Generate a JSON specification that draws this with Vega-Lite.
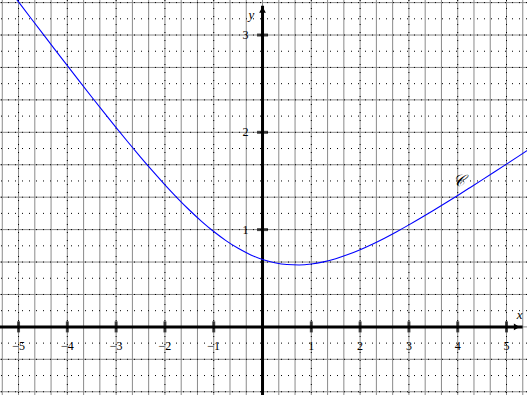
{
  "$schema": "https://vega.github.io/schema/vega-lite/v6.json",
  "width": 527,
  "height": 395,
  "autosize": {"type": "none"},
  "padding": 0,
  "config": {"view": {"stroke": null}},
  "datasets": {
    "vgrid": [{"x":-5.3333},{"x":-5},{"x":-4.6667},{"x":-4.3333},{"x":-4},{"x":-3.6667},{"x":-3.3333},{"x":-3},{"x":-2.6667},{"x":-2.3333},{"x":-2},{"x":-1.6667},{"x":-1.3333},{"x":-1},{"x":-0.6667},{"x":-0.3333},{"x":0},{"x":0.3333},{"x":0.6667},{"x":1},{"x":1.3333},{"x":1.6667},{"x":2},{"x":2.3333},{"x":2.6667},{"x":3},{"x":3.3333},{"x":3.6667},{"x":4},{"x":4.3333},{"x":4.6667},{"x":5},{"x":5.3333}],
    "hgrid": [{"y":-0.6667},{"y":-0.3333},{"y":0},{"y":0.3333},{"y":0.6667},{"y":1},{"y":1.3333},{"y":1.6667},{"y":2},{"y":2.3333},{"y":2.6667},{"y":3},{"y":3.3333}],
    "hdots": [{"y":-0.6667},{"y":-0.5},{"y":-0.3333},{"y":-0.1667},{"y":0.1667},{"y":0.3333},{"y":0.5},{"y":0.6667},{"y":0.8333},{"y":1},{"y":1.1667},{"y":1.3333},{"y":1.5},{"y":1.6667},{"y":1.8333},{"y":2},{"y":2.1667},{"y":2.3333},{"y":2.5},{"y":2.6667},{"y":2.8333},{"y":3},{"y":3.1667},{"y":3.3333}],
    "vdots": [{"x":-5},{"x":-4},{"x":-3},{"x":-2},{"x":-1},{"x":1},{"x":2},{"x":3},{"x":4},{"x":5}],
    "curve": [
      {"x":-5.25,"y":3.5052},{"x":-5.0,"y":3.34},{"x":-4.75,"y":3.1753},{"x":-4.5,"y":3.011},{"x":-4.25,"y":2.8475},{"x":-4.0,"y":2.6848},{"x":-3.75,"y":2.5233},{"x":-3.5,"y":2.3631},{"x":-3.25,"y":2.2048},{"x":-3.0,"y":2.0486},{"x":-2.75,"y":1.8953},{"x":-2.5,"y":1.7456},{"x":-2.25,"y":1.6002},{"x":-2.0,"y":1.4602},{"x":-1.75,"y":1.3269},{"x":-1.5,"y":1.2014},{"x":-1.25,"y":1.0852},{"x":-1.0,"y":0.98},{"x":-0.75,"y":0.8869},{"x":-0.5,"y":0.8074},{"x":-0.25,"y":0.7426},{"x":0,"y":0.6931},{"x":0.25,"y":0.6592},{"x":0.5,"y":0.6408},{"x":0.75,"y":0.6369},{"x":1.0,"y":0.6466},{"x":1.25,"y":0.6686},{"x":1.5,"y":0.7014},{"x":1.75,"y":0.7435},{"x":2.0,"y":0.7936},{"x":2.25,"y":0.8502},{"x":2.5,"y":0.9122},{"x":2.75,"y":0.9787},{"x":3.0,"y":1.0486},{"x":3.25,"y":1.1214},{"x":3.5,"y":1.1965},{"x":3.75,"y":1.2733},{"x":4.0,"y":1.3514},{"x":4.25,"y":1.4309},{"x":4.5,"y":1.511},{"x":4.75,"y":1.5919},{"x":5.0,"y":1.6734},{"x":5.25,"y":1.7552},{"x":5.5,"y":1.8374}
    ],
    "xticks": [{"x":-5,"y":0,"label":"−5"},{"x":-4,"y":0,"label":"−4"},{"x":-3,"y":0,"label":"−3"},{"x":-2,"y":0,"label":"−2"},{"x":-1,"y":0,"label":"−1"},{"x":1,"y":0,"label":"1"},{"x":2,"y":0,"label":"2"},{"x":3,"y":0,"label":"3"},{"x":4,"y":0,"label":"4"},{"x":5,"y":0,"label":"5"}],
    "yticks": [{"x":0,"y":1,"label":"1"},{"x":0,"y":2,"label":"2"},{"x":0,"y":3,"label":"3"}],
    "xaxis": [{"x":-5.45,"x2":5.33,"y":0}],
    "yaxis": [{"x":0,"y":-0.75,"y2":3.3}],
    "arrowx": [{"x":5.21,"y":0}],
    "arrowy": [{"x":0,"y":3.26}],
    "names": [{"x":5.27,"y":0.12,"label":"x"},{"x":-0.23,"y":3.21,"label":"y"}],
    "cname": [{"x":4.02,"y":1.5,"label":"𝒞"}]
  },
  "layer": [
    {
      "data": {"name": "vgrid"},
      "mark": {"type": "rule", "color": "#8a8a8a", "strokeWidth": 1},
      "encoding": {
        "x": {"field": "x", "type": "quantitative", "scale": {"domain": [-5.38, 5.42], "nice": false, "zero": false}, "axis": null}
      }
    },
    {
      "data": {"name": "hgrid"},
      "mark": {"type": "rule", "color": "#8a8a8a", "strokeWidth": 1},
      "encoding": {
        "y": {"field": "y", "type": "quantitative", "scale": {"domain": [-0.7, 3.36], "nice": false, "zero": false}, "axis": null}
      }
    },
    {
      "data": {"name": "hdots"},
      "mark": {"type": "rule", "color": "#000000", "strokeWidth": 1, "strokeDash": [1, 6]},
      "encoding": {
        "y": {"field": "y", "type": "quantitative", "scale": {"domain": [-0.7, 3.36], "nice": false, "zero": false}, "axis": null}
      }
    },
    {
      "data": {"name": "vdots"},
      "mark": {"type": "rule", "color": "#000000", "strokeWidth": 1, "strokeDash": [1, 7]},
      "encoding": {
        "x": {"field": "x", "type": "quantitative", "scale": {"domain": [-5.38, 5.42], "nice": false, "zero": false}, "axis": null}
      }
    },
    {
      "data": {"name": "xaxis"},
      "mark": {"type": "rule", "color": "#000000", "strokeWidth": 3},
      "encoding": {
        "x": {"field": "x", "type": "quantitative", "scale": {"domain": [-5.38, 5.42], "nice": false, "zero": false}, "axis": null},
        "x2": {"field": "x2"},
        "y": {"field": "y", "type": "quantitative", "scale": {"domain": [-0.7, 3.36], "nice": false, "zero": false}, "axis": null}
      }
    },
    {
      "data": {"name": "yaxis"},
      "mark": {"type": "rule", "color": "#000000", "strokeWidth": 3},
      "encoding": {
        "x": {"field": "x", "type": "quantitative", "scale": {"domain": [-5.38, 5.42], "nice": false, "zero": false}, "axis": null},
        "y": {"field": "y", "type": "quantitative", "scale": {"domain": [-0.7, 3.36], "nice": false, "zero": false}, "axis": null},
        "y2": {"field": "y2"}
      }
    },
    {
      "data": {"name": "curve"},
      "mark": {"type": "line", "color": "#0000ff", "strokeWidth": 1.1, "clip": true, "interpolate": "monotone"},
      "encoding": {
        "x": {"field": "x", "type": "quantitative", "scale": {"domain": [-5.38, 5.42], "nice": false, "zero": false}, "axis": null},
        "y": {"field": "y", "type": "quantitative", "scale": {"domain": [-0.7, 3.36], "nice": false, "zero": false}, "axis": null}
      }
    },
    {
      "data": {"name": "xticks"},
      "mark": {"type": "tick", "orient": "vertical", "color": "#000000", "size": 11, "thickness": 3},
      "encoding": {
        "x": {"field": "x", "type": "quantitative", "scale": {"domain": [-5.38, 5.42], "nice": false, "zero": false}, "axis": null},
        "y": {"field": "y", "type": "quantitative", "scale": {"domain": [-0.7, 3.36], "nice": false, "zero": false}, "axis": null}
      }
    },
    {
      "data": {"name": "yticks"},
      "mark": {"type": "tick", "orient": "horizontal", "color": "#000000", "size": 11, "thickness": 3},
      "encoding": {
        "x": {"field": "x", "type": "quantitative", "scale": {"domain": [-5.38, 5.42], "nice": false, "zero": false}, "axis": null},
        "y": {"field": "y", "type": "quantitative", "scale": {"domain": [-0.7, 3.36], "nice": false, "zero": false}, "axis": null}
      }
    },
    {
      "data": {"name": "arrowx"},
      "mark": {"type": "point", "shape": "triangle-right", "filled": true, "color": "#000000", "size": 45, "opacity": 1},
      "encoding": {
        "x": {"field": "x", "type": "quantitative", "scale": {"domain": [-5.38, 5.42], "nice": false, "zero": false}, "axis": null},
        "y": {"field": "y", "type": "quantitative", "scale": {"domain": [-0.7, 3.36], "nice": false, "zero": false}, "axis": null}
      }
    },
    {
      "data": {"name": "arrowy"},
      "mark": {"type": "point", "shape": "triangle-up", "filled": true, "color": "#000000", "size": 45, "opacity": 1},
      "encoding": {
        "x": {"field": "x", "type": "quantitative", "scale": {"domain": [-5.38, 5.42], "nice": false, "zero": false}, "axis": null},
        "y": {"field": "y", "type": "quantitative", "scale": {"domain": [-0.7, 3.36], "nice": false, "zero": false}, "axis": null}
      }
    },
    {
      "data": {"name": "xticks"},
      "mark": {"type": "text", "font": "Liberation Serif", "fontSize": 12, "color": "#000000", "dy": 19, "align": "center", "baseline": "middle"},
      "encoding": {
        "x": {"field": "x", "type": "quantitative", "scale": {"domain": [-5.38, 5.42], "nice": false, "zero": false}, "axis": null},
        "y": {"field": "y", "type": "quantitative", "scale": {"domain": [-0.7, 3.36], "nice": false, "zero": false}, "axis": null},
        "text": {"field": "label"}
      }
    },
    {
      "data": {"name": "yticks"},
      "mark": {"type": "text", "font": "Liberation Serif", "fontSize": 12, "color": "#000000", "dx": -17, "align": "center", "baseline": "middle"},
      "encoding": {
        "x": {"field": "x", "type": "quantitative", "scale": {"domain": [-5.38, 5.42], "nice": false, "zero": false}, "axis": null},
        "y": {"field": "y", "type": "quantitative", "scale": {"domain": [-0.7, 3.36], "nice": false, "zero": false}, "axis": null},
        "text": {"field": "label"}
      }
    },
    {
      "data": {"name": "names"},
      "mark": {"type": "text", "font": "Liberation Serif", "fontSize": 13, "fontStyle": "italic", "color": "#000000", "align": "center", "baseline": "middle"},
      "encoding": {
        "x": {"field": "x", "type": "quantitative", "scale": {"domain": [-5.38, 5.42], "nice": false, "zero": false}, "axis": null},
        "y": {"field": "y", "type": "quantitative", "scale": {"domain": [-0.7, 3.36], "nice": false, "zero": false}, "axis": null},
        "text": {"field": "label"}
      }
    },
    {
      "data": {"name": "cname"},
      "mark": {"type": "text", "font": "DejaVu Serif", "fontSize": 16, "fontStyle": "italic", "color": "#000000", "align": "center", "baseline": "middle"},
      "encoding": {
        "x": {"field": "x", "type": "quantitative", "scale": {"domain": [-5.38, 5.42], "nice": false, "zero": false}, "axis": null},
        "y": {"field": "y", "type": "quantitative", "scale": {"domain": [-0.7, 3.36], "nice": false, "zero": false}, "axis": null},
        "text": {"field": "label"}
      }
    }
  ]
}
